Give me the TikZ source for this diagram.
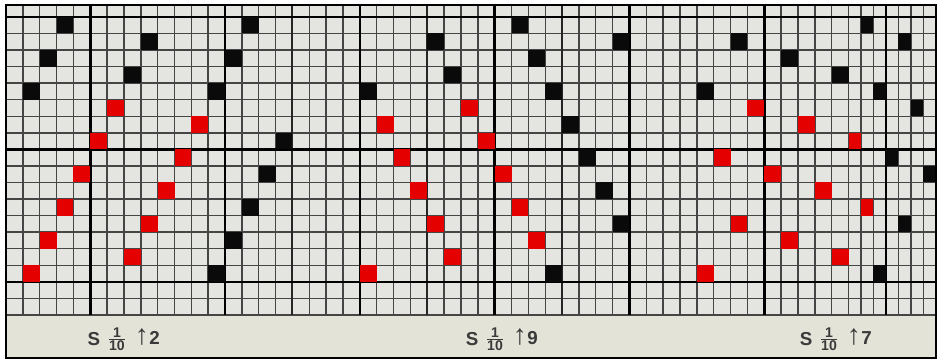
\documentclass[tikz,border=0pt]{standalone}
\usepackage{fontspec}
\setmainfont{Liberation Sans}
\usepackage{tikz}
\usetikzlibrary{positioning}
\definecolor{fond}{HTML}{E4E4E0}
\definecolor{bande}{HTML}{E3E3D8}
\definecolor{gris}{HTML}{454545}
\definecolor{rouge}{HTML}{E50000}
\definecolor{noir}{HTML}{0A0A0A}
\definecolor{encre}{HTML}{3A3A3A}
\tikzset{
  fin/.style={gris,line width=1.2pt},
  moyen/.style={black!85,line width=1.7pt},
  fort/.style={black,line width=2.2pt},
  lettre/.style={inner sep=0pt,text=encre,font=\bfseries\fontsize{16}{16}\selectfont},
  fleche/.style={inner sep=0pt,text=encre,font=\fontsize{24}{24}\selectfont},
  fraction/.style={inner sep=0pt,text=encre,font=\bfseries\fontsize{12}{12}\selectfont},
}
\newcommand{\satin}[2]{$\frac{\mbox{#1}}{\mbox{#2}}$}

\begin{document}
\begin{tikzpicture}[x=0.5055cm,y=0.4968cm]
  \useasboundingbox (-0.356,-2.717) rectangle (55.49,19.02);
  \fill[bande] (0,-2.6) rectangle (55.18,0);
  \fill[fond] (0,0) rectangle (55.18,18.7);
  % quadrillage
  \foreach \i in {0,...,57} {
    \pgfmathsetmacro\xg{min(\i,50)+0.74*max(\i-50,0)}
    \draw[fin] (\xg,0) -- (\xg,18.7);
  }
  \foreach \j in {0,...,18}
    \draw[fin] (0,\j) -- (55.18,\j);
  \foreach \i in {17,25,33}
    \draw[moyen] (\i,0) -- (\i,18.7);
  \foreach \i in {5,13,21,29,37,45,52.22}
    \draw[fort] (\i,0) -- (\i,18.7);
  \foreach \j in {2,10,18}
    \draw[fort] (0,\j) -- (55.18,\j);
  % points de liage : un rapport de 11 en rouge, la suite en noir
  \foreach \deb/\pas in {1/2,21/9,41/7} {
    \foreach \col in {1,...,16} {
      \pgfmathtruncatemacro\rg{mod(\pas*(\col-1),11)+2}
      \pgfmathsetmacro\xa{min(\deb+\col-1,50)+0.74*max(\deb+\col-51,0)}
      \pgfmathsetmacro\xb{min(\deb+\col,50)+0.74*max(\deb+\col-50,0)}
      \ifnum\col<12 \fill[rouge] (\xa,\rg) rectangle (\xb,\rg+1);
      \else \fill[noir] (\xa,\rg) rectangle (\xb,\rg+1); \fi
      \ifnum\rg<7 \fill[noir] (\xa,\rg+11) rectangle (\xb,\rg+12); \fi
    }
  }
  \draw[line width=1.8pt] (0,-2.6) rectangle (55.18,18.7);
  % legendes
  \node[lettre] (s1) at (5.22,-1.45) {S};
  \node[fraction,right=6pt of s1] (f1) {\satin{1}{10}};
  \node[fleche,right=7pt of f1.east,anchor=south west,yshift=-6pt] (a1) {↑};
  \node[lettre,anchor=base west] (n1) at (a1.base east) {2};
  \node[lettre] (s2) at (27.66,-1.45) {S};
  \node[fraction,right=6pt of s2] (f2) {\satin{1}{10}};
  \node[fleche,right=7pt of f2.east,anchor=south west,yshift=-6pt] (a2) {↑};
  \node[lettre,anchor=base west] (n2) at (a2.base east) {9};
  \node[lettre] (s3) at (47.48,-1.45) {S};
  \node[fraction,right=6pt of s3] (f3) {\satin{1}{10}};
  \node[fleche,right=7pt of f3.east,anchor=south west,yshift=-6pt] (a3) {↑};
  \node[lettre,anchor=base west] (n3) at (a3.base east) {7};
\end{tikzpicture}
\end{document}
